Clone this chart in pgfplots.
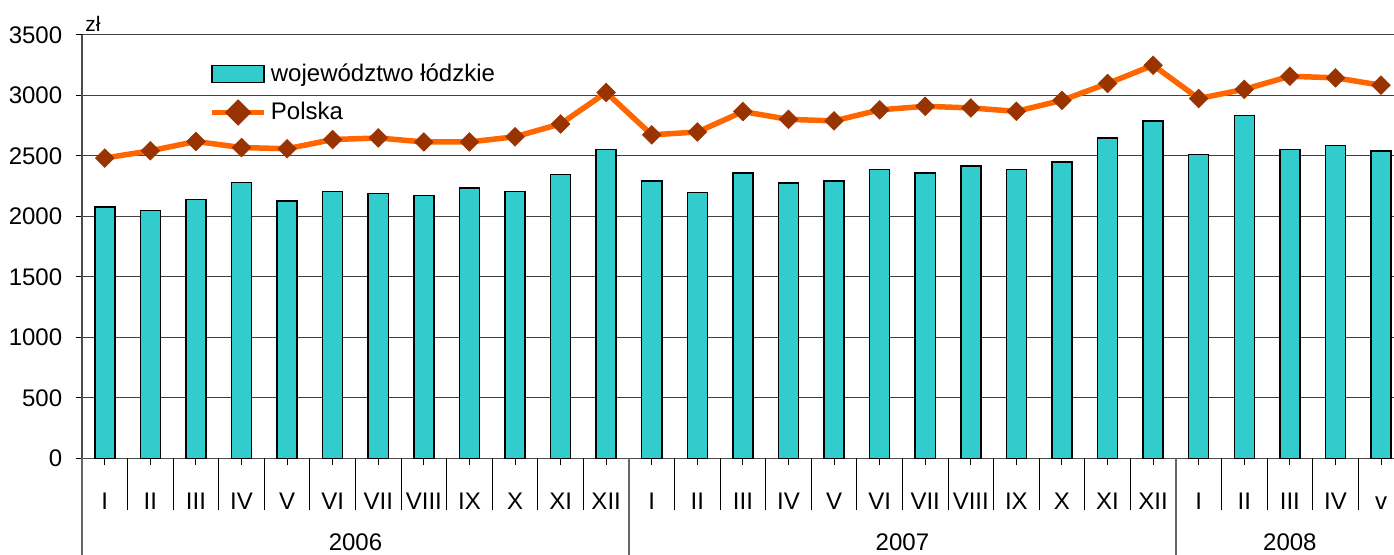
\documentclass[border=0pt]{standalone}
\usepackage{pgfplots}
\pgfplotsset{compat=1.18}
\usepackage{pgfplotstable}
\usepackage{fontspec}
\setmainfont{Liberation Sans}
\definecolor{barc}{HTML}{33CCCC}
\definecolor{linec}{HTML}{FF6600}
\definecolor{markc}{HTML}{993300}
\pgfplotstableread{
x  lodz  pl
0  2080  2483
1  2050  2543
2  2140  2620
3  2280  2570
4  2130  2560
5  2205  2636
6  2190  2649
7  2172  2616
8  2235  2616
9  2205  2659
10 2347  2765
11 2552  3025
12 2295  2675
13 2200  2698
14 2359  2867
15 2278  2803
16 2295  2790
17 2389  2881
18 2359  2911
19 2419  2897
20 2389  2869
21 2450  2960
22 2648  3099
23 2788  3250
24 2513  2975
25 2836  3051
26 2554  3159
27 2587  3146
28 2540  3085
}\data
\pgfplotsset{
  barlegend/.style={legend image code/.code={\draw[fill=barc, draw=black, line width=0.75pt] (0pt,-4.2pt) rectangle (26pt,4.2pt);}},
  linelegend/.style={legend image code/.code={%
    \draw[linec, line width=2.75pt] (0pt,0pt) -- (26pt,0pt);
    \fill[markc] (13pt,0pt) ++(-4.67pt,0pt) -- ++(4.67pt,4.67pt) -- ++(4.67pt,-4.67pt) -- ++(-4.67pt,-4.67pt) -- cycle;}},
}
\begin{document}
\fontsize{12}{14}\selectfont
\begin{tikzpicture}
\begin{axis}[
  name=ax,
  scale only axis,
  width=656pt, height=211.75pt,
  xmin=-0.5, xmax=28.285,
  ymin=0, ymax=3500,
  ytick={0,500,...,3500},
  xtick={0,...,28},
  xticklabels={I,II,III,IV,V,VI,VII,VIII,IX,X,XI,XII,I,II,III,IV,V,VI,VII,VIII,IX,X,XI,XII,I,II,III,IV,v},
  axis x line*=bottom, axis y line*=left,
  axis line style={-, black!70, line width=0.6pt},
  every outer x axis line/.append style={-},
  every outer y axis line/.append style={-},
  tick align=outside,
  major tick length=3.2pt,
  tick style={black, line width=0.5pt},
  ymajorgrids,
  grid style={black!75, line width=0.5pt},
  /pgf/number format/assume math mode=true,
  /pgf/number format/1000 sep={},
  yticklabel style={anchor=east, inner sep=0pt, xshift=-6.5pt},
  xticklabel style={anchor=base, inner sep=0pt, yshift=-22.25pt},
  tick label style={font=\fontsize{12}{14}\selectfont},
  clip=false,
  legend style={draw=none, fill=none, at={(0.0968,0.9433)}, anchor=north west,
    inner sep=0pt, row sep=4.7pt, font=\fontsize{12}{14}\selectfont,
    cells={anchor=west, inner xsep=2.5pt}},
  legend cell align=left,
]
\addplot[ybar, bar width=0.44, fill=barc, draw=black, line width=0.75pt, barlegend]
  table[x=x, y=lodz] {\data};
\addlegendentry{województwo łódzkie}
\addplot[linec, line width=2.75pt, mark=square*, mark size=3.3pt,
  mark options={rotate=45, fill=markc, draw=markc, line width=0.3pt}, linelegend]
  table[x=x, y=pl] {\data};
\addlegendentry{Polska}
% month separators below axis
\pgfplotsinvokeforeach{0.5,1.5,...,27.5}{\draw[black, line width=0.5pt] (axis cs:#1,0) -- (axis cs:#1,-426);}
% year separators
\pgfplotsinvokeforeach{-0.5,11.5,23.5}{\draw[black!60, line width=0.8pt] (axis cs:#1,0) -- (axis cs:#1,-797.5);}
\node[anchor=base, inner sep=0pt] at (axis cs:5.5,-762) {2006};
\node[anchor=base, inner sep=0pt] at (axis cs:17.5,-762) {2007};
\node[anchor=base, inner sep=0pt] at (axis cs:26,-762) {2008};
\node[anchor=base west, inner sep=0pt, font=\fontsize{10.5}{12}\selectfont] at ([xshift=1.5pt,yshift=1.75pt]rel axis cs:0,1) {zł};
\end{axis}
\pgfresetboundingbox
\path[use as bounding box] ([shift={(-41pt,-48.25pt)}]ax.south west) rectangle ([yshift=17.5pt]ax.north east);
\end{tikzpicture}
\end{document}
